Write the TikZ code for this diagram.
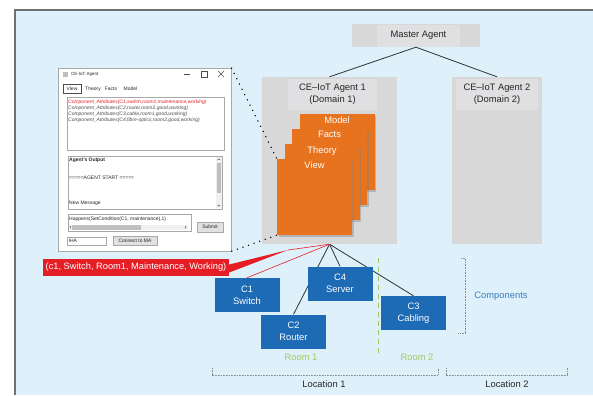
\documentclass[tikz,border=0pt]{standalone}
\usepackage{fontspec}
\setmainfont{Liberation Sans}
\usetikzlibrary{shadows}

\definecolor{bgblue}{HTML}{DEF0FA}
\definecolor{framegray}{HTML}{707070}
\definecolor{panelgray}{HTML}{D8D8D8}
\definecolor{panellight}{HTML}{E0E0E2}
\definecolor{cardorange}{HTML}{E8731F}
\definecolor{compblue}{HTML}{1D6AB5}
\definecolor{calloutred}{HTML}{E51E25}
\definecolor{roomgreen}{HTML}{9DCB62}
\definecolor{textblue}{HTML}{3B7DC2}
\definecolor{uigray}{HTML}{A8A8A8}
\definecolor{btngray}{HTML}{E1E1E1}

\newcommand\uifont{\fontsize{5}{6}\selectfont}

\pgfdeclarelayer{back}
\pgfdeclarelayer{wires}
\pgfsetlayers{back,wires,main}

\tikzset{
  panel/.style={fill=panelgray, inner sep=0pt},
  panellbl/.style={fill=panellight, inner sep=0pt, align=center, text=black!85},
  card/.style={fill=cardorange, minimum width=75bp, minimum height=76bp, inner sep=0pt,
    drop shadow={shadow xshift=1.5bp, shadow yshift=-1.5bp, opacity=0.4}},
  cardlbl/.style={anchor=north, yshift=-2.5bp, text=white, inner sep=0pt},
  comp/.style={fill=compblue, text=white, minimum width=65bp, minimum height=34bp,
    inner sep=0pt, align=center},
  wire/.style={draw=black!80, line width=0.8bp},
  redwire/.style={draw=calloutred, line width=0.6bp},
  callout/.style={fill=calloutred, text=white, minimum width=186bp, minimum height=17bp,
    inner sep=0pt, font=\fontsize{9.3}{11}\selectfont},
  zoomdots/.style={line width=1.1bp, dash pattern=on 1.1bp off 4.8bp},
  bracketdots/.style={draw=black!45, line width=0.8bp, dash pattern=on 0.8bp off 0.8bp},
  roomdash/.style={draw=roomgreen, line width=1bp, dash pattern=on 5bp off 4bp},
  window/.style={fill=white, draw=uigray, line width=0.6bp, minimum width=173bp,
    minimum height=183bp, inner sep=0pt, drop shadow={shadow xshift=1bp, shadow yshift=-1bp, opacity=0.25}},
  uitext/.style={inner sep=0pt, font=\uifont, text=black!85},
  uiline/.style={draw=black!70, line width=0.4bp},
  uibox/.style={draw=uigray, line width=0.5bp, fill=white},
  uibtn/.style={draw=uigray, line width=0.5bp, fill=btngray},
}

\begin{document}
\begin{tikzpicture}[x=1bp, y=-1bp, font=\fontsize{9.4}{12}\selectfont]
\useasboundingbox (0,0) rectangle (593,395);

% backdrop and frame
\begin{pgfonlayer}{back}
  \fill[bgblue] (15,10) rectangle (593,395);
  \draw[framegray, line width=1.3bp] (15,395) -- (15,10) -- (593,10);
\end{pgfonlayer}

% agents
\node[panel, minimum width=128bp, minimum height=23bp] (ma) at (416,35.5) {};
\node[panellbl, minimum width=83bp, minimum height=22bp] (malbl) at (418.5,35.5) {Master Agent};

\node[panel, minimum width=135bp, minimum height=167bp] (ag1) at (329.5,160.5) {};
\node[panellbl, minimum width=89bp, minimum height=31bp] (ag1lbl) at (332.5,94.5) {CE–IoT Agent 1\\(Domain 1)};

\node[panel, minimum width=90bp, minimum height=167bp] (ag2) at (497,160.5) {};
\node[panellbl, minimum width=82bp, minimum height=31bp] (ag2lbl) at (497,94.5) {CE–IoT Agent 2\\(Domain 2)};

\draw[wire] (ma.south) -- (ag1.north);
\draw[wire] (ma.south) -- (ag2.north);

% knowledge cards, back to front
\foreach \nm/\cx/\cy/\lbl in {model/337/152/Model, facts/329.5/167/Facts,
                              theory/322/182/Theory, view/314.5/197/View}
  \node[card, label={[cardlbl]north:\lbl}] (\nm) at (\cx,\cy) {};

% agent window
\node[window] (win) at (144.5,159.5) {};
\draw[zoomdots] (win.north east) -- (view.north west);
\draw[zoomdots] (win.south east) -- (view.south west);

% title bar
\fill[black!25] (63,71.5) rectangle (67.5,76.5);
\node[uitext, anchor=west, font=\fontsize{4.5}{5}\selectfont] (wintitle) at (71,74) {CE-IoT Agent};
\draw[uiline] (184,74) -- (190,74);
\draw[uiline] (201,71) rectangle (207,77);
\draw[uiline] (218,71) -- (224,77) (218,77) -- (224,71);

% tabs
\draw[uiline] (63,84) rectangle (81,93);
\foreach \nm/\tx/\lbl in {tabview/72/View, tabtheory/93/Theory, tabfacts/111/Facts, tabmodel/130.5/Model}
  \node[uitext, anchor=base] (\nm) at (\tx,90.3) {\lbl};

% facts list
\draw[uibox] (67,97) rectangle (224,150);
\node[uitext, anchor=west, text=calloutred, font=\uifont\itshape] (row1) at (68,102.7)
  {Component\_Attributes(C1,switch,room1,maintenance,working)};
\node[uitext, anchor=west, text=black!70, font=\uifont\itshape] (row2) at (68,108.5)
  {Component\_Attributes(C2,router,room2,good,working)};
\node[uitext, anchor=west, text=black!70, font=\uifont\itshape] (row3) at (68,114.5)
  {Component\_Attributes(C3,cable,room1,good,working)};
\node[uitext, anchor=west, text=black!70, font=\uifont\itshape] (row4) at (68,120.7)
  {Component\_Attributes(C4,fibre-optics,room2,good,working)};

% output pane
\draw[uibox] (68,156) rectangle (222,209);
\fill[black!6] (216,157) rectangle (221.5,208);
\fill[black!25] (216.8,163) rectangle (220.8,193);
\draw[uiline] (217.5,160) -- (218.8,158.8) -- (220,160);
\draw[uiline] (217.5,205) -- (218.8,206.2) -- (220,205);
\node[uitext, anchor=west, font=\uifont\bfseries] (outhead) at (69,160.5) {Agent's Output};
\node[uitext, anchor=west] (outstart) at (69,178) {=====AGENT START =====};
\node[uitext, anchor=west] (outmsg) at (69,203.5) {New Message};

% input line and buttons
\draw[uibox] (68,214) rectangle (191,231);
\fill[black!6] (69,224.5) rectangle (188,230);
\fill[black!25] (72,225) rectangle (141,229.5);
\draw[uiline] (71,226) -- (70,227.2) -- (71,228.4);
\draw[uiline] (185,226) -- (186,227.2) -- (185,228.4);
\node[uitext, anchor=west] (inline) at (69,219) {Happens(SetCondition(C1, maintenance),1)};
\draw[uibtn] (197,222) rectangle (223,232);
\node[uitext] (submit) at (210,227) {Submit};
\draw[uibox] (67,237) rectangle (106,245);
\node[uitext, anchor=west] (iha) at (68.5,241) {IHA};
\draw[uibtn] (113,236) rectangle (157,245);
\node[uitext] (connect) at (135,240.5) {Connect to MA};

% components
\node[comp] (c1) at (247,295) {C1\\Switch};
\node[comp] (c2) at (293.5,331.5) {C2\\Router};
\node[comp] (c4) at (340,283.5) {C4\\Server};
\node[comp] (c3) at (413.5,313) {C3\\Cabling};

\coordinate (root) at (ag1.south);
\begin{pgfonlayer}{wires}
  \draw[wire] (root) -- (c2.north);
  \draw[wire] (root) -- (c4.north);
  \draw[wire] (root) -- (c3.north);
  \draw[redwire] (root) -- (c1.north);
\end{pgfonlayer}

% callout for C1
\node[callout] (tag) at (136,267.5) {(c1, Switch, Room1, Maintenance, Working)};
\coordinate (tip) at (288,250);
\fill[calloutred] ([yshift=-5bp]tag.east) -- (tip) -- ([yshift=3bp]tag.east) -- cycle;
\draw[redwire] (tip) -- (root);

% rooms
\draw[roomdash] (378,258) -- (378,355);
\node[text=roomgreen] (room1) at (301,357) {Room 1};
\node[text=roomgreen] (room2) at (417,357) {Room 2};

% groupings
\draw[bracketdots] (461,258) -- (465,258) -- (465,333) -- (458,333);
\node[text=textblue] (complbl) at (501,296) {Components};
\draw[bracketdots] (212,368) -- (212,375) -- (438,375) -- (438,368);
\draw[bracketdots] (446,368) -- (446,375) -- (567,375) -- (567,368);
\node[text=black!85] (loc1) at (324,384) {Location 1};
\node[text=black!85] (loc2) at (507,384) {Location 2};
\end{tikzpicture}
\end{document}
